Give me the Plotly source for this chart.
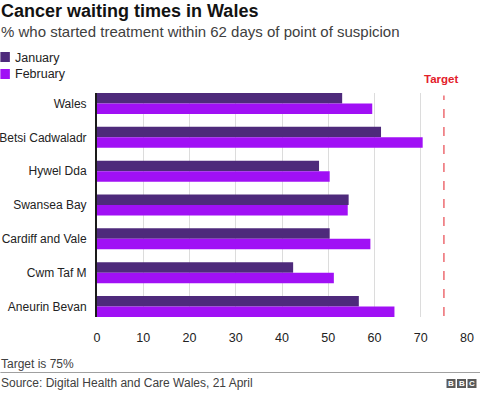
import plotly.graph_objects as go

regions = ["Wales", "Betsi Cadwaladr", "Hywel Dda", "Swansea Bay",
           "Cardiff and Vale", "Cwm Taf M", "Aneurin Bevan"]
january = [53.0, 61.4, 48.0, 54.4, 50.3, 42.4, 56.6]
february = [59.5, 70.4, 50.3, 54.2, 59.1, 51.2, 64.3]
target = 75
x_ticks = [0, 10, 20, 30, 40, 50, 60, 70, 80]

FONT = "Arial, 'Liberation Sans', Helvetica, sans-serif"
W, H = 480, 393
L, R, T, B = 96.7, 468.0, 93.0, 317.0


def px(x):
    return (x - L) / (R - L)


def py(y):
    return (B - y) / (B - T)


fig = go.Figure()
fig.add_trace(go.Bar(name="January", y=regions, x=january, orientation="h",
                     marker=dict(color="#4e2a7b", line=dict(width=0))))
fig.add_trace(go.Bar(name="February", y=regions, x=february, orientation="h",
                     marker=dict(color="#a010f5", line=dict(width=0))))

shapes = []
annotations = []

# target line
shapes.append(dict(type="line", xref="x", yref="paper", x0=target, x1=target,
                   y0=py(316), y1=py(95.5),
                   line=dict(color="#e3202a", width=1, dash="dash")))
annotations.append(dict(text="<b>Target</b>", xref="paper", yref="paper",
                        x=px(441), y=py(78.5), xanchor="center", yanchor="middle",
                        showarrow=False, font=dict(family=FONT, size=11.5, color="#e3202a")))

# title & subtitle
annotations.append(dict(text="<b>Cancer waiting times in Wales</b>", xref="paper", yref="paper",
                        x=px(-1.5), y=py(11.5), xanchor="left", yanchor="middle",
                        showarrow=False, font=dict(family=FONT, size=18, color="#121212")))
annotations.append(dict(text="% who started treatment within 62 days of point of suspicion",
                        xref="paper", yref="paper",
                        x=px(-1.5), y=py(31.5), xanchor="left", yanchor="middle",
                        showarrow=False, font=dict(family=FONT, size=15, color="#404040")))

# legend
for name, col, yc in [("January", "#4e2a7b", 57), ("February", "#a010f5", 74)]:
    shapes.append(dict(type="rect", xref="paper", yref="paper",
                       x0=px(0), x1=px(9.5), y0=py(yc - 5), y1=py(yc + 5),
                       fillcolor=col, line=dict(width=0)))
    annotations.append(dict(text=name, xref="paper", yref="paper",
                            x=px(13), y=py(yc + 0.5), xanchor="left", yanchor="middle",
                            showarrow=False, font=dict(family=FONT, size=12.5, color="#222222")))

# footer
annotations.append(dict(text="Target is 75%", xref="paper", yref="paper",
                        x=px(-1), y=py(364), xanchor="left", yanchor="middle",
                        showarrow=False, font=dict(family=FONT, size=12, color="#404040")))
shapes.append(dict(type="line", xref="paper", yref="paper", x0=px(0), x1=px(480),
                   y0=py(372.5), y1=py(372.5), line=dict(color="#a0a0a0", width=1)))
annotations.append(dict(text="Source: Digital Health and Care Wales, 21 April", xref="paper", yref="paper",
                        x=px(-1), y=py(383), xanchor="left", yanchor="middle",
                        showarrow=False, font=dict(family=FONT, size=12, color="#404040")))
for i, letter in enumerate("BBC"):
    x0 = 446.5 + i * 10.5
    shapes.append(dict(type="rect", xref="paper", yref="paper",
                       x0=px(x0), x1=px(x0 + 9), y0=py(379), y1=py(388),
                       fillcolor="#5a5a5a", line=dict(width=0)))
    annotations.append(dict(text=f"<b>{letter}</b>", xref="paper", yref="paper",
                            x=px(x0 + 4.5), y=py(383.5), xanchor="center", yanchor="middle",
                            showarrow=False, font=dict(family=FONT, size=8, color="#ffffff")))

fig.update_layout(
    width=W, height=H,
    margin=dict(l=L, r=W - R, t=T, b=H - B, pad=0, autoexpand=False),
    paper_bgcolor="white", plot_bgcolor="white",
    barmode="group", bargap=0.38, bargroupgap=0,
    showlegend=False,
    font=dict(family=FONT, size=12, color="#222222"),
    xaxis=dict(range=[0, 80.2], tickvals=x_ticks, ticktext=[str(v) for v in x_ticks],
               showgrid=True, gridcolor="#dcdcdc", gridwidth=1, zeroline=False,
               showline=False, ticks="outside", ticklen=9, tickcolor="rgba(0,0,0,0)",
               automargin=False,
               tickfont=dict(family=FONT, size=12.5, color="#222222"), fixedrange=True),
    yaxis=dict(categoryorder="array", categoryarray=regions, range=[6.31, -0.31],
               showgrid=False, zeroline=False, showline=True, linecolor="#1a1a1a", linewidth=2,
               ticks="outside", ticklen=6, tickcolor="rgba(0,0,0,0)", automargin=False,
               tickfont=dict(family=FONT, size=12, color="#222222"), fixedrange=True),
    shapes=shapes, annotations=annotations,
)

fig.write_html("out.html", config=dict(displayModeBar=False),
               post_script="document.body.style.margin='0';document.body.style.overflow='hidden';")
